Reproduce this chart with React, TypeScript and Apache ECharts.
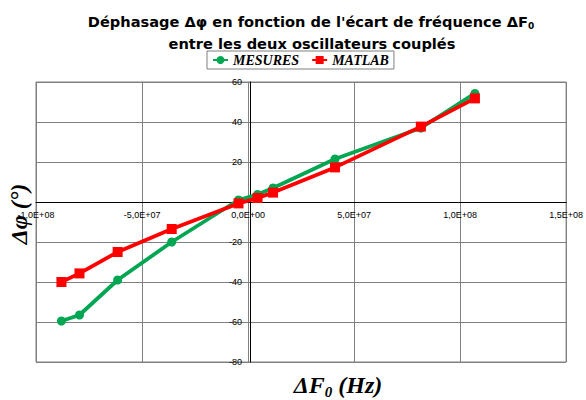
import React, { useEffect, useRef } from 'react';
import * as echarts from 'echarts';

// Frequency offsets ΔF0 (Hz) shared by both series
const freqOffsets = [-88e6, -79.5e6, -61.5e6, -36e6, -4.5e6, 4.5e6, 11.8e6, 41e6, 81.5e6, 107e6];
// Measured phase shift (°)
const mesures = [-59.5, -56.5, -39, -20, 1, 3.8, 7, 21.5, 37, 54.3];
// Simulated (MATLAB) phase shift (°)
const matlab = [-40, -35.7, -25, -13.5, -0.7, 2, 4.7, 17.3, 37.7, 51.8];

const seriesNames = ['MESURES', 'MATLAB'];
const xMin = -1e8;
const xMax = 1.5e8;
const xStep = 5e7;
const yMin = -80;
const yMax = 60;
const yStep = 20;

const GRID = { left: 36, top: 82, width: 535, height: 280 };

function sciLabel(v: number): string {
  if (v === 0) return '0,0E+00';
  const sign = v < 0 ? '-' : '';
  const a = Math.abs(v);
  let e = Math.floor(Math.log10(a) + 1e-9);
  let m = a / Math.pow(10, e);
  if (Math.round(m * 10) / 10 >= 10) { m /= 10; e += 1; }
  return `${sign}${m.toFixed(1).replace('.', ',')}E+${String(e).padStart(2, '0')}`;
}

export default function App() {
  const ref = useRef<HTMLDivElement>(null);
  useEffect(() => {
    if (!ref.current) return;
    const chart = echarts.init(ref.current, undefined, { renderer: 'svg' });
    const pairs = (ys: number[]) => freqOffsets.map((x, i) => [x, ys[i]]);
    const sans = '"Liberation Sans", Arial, sans-serif';
    const heavy = '"DejaVu Sans", Verdana, sans-serif';
    const serif = '"Liberation Serif", "Times New Roman", serif';
    // axes cross at zero: shift each axis from the grid edge to the zero of the other scale
    const xAxisOffset = -((0 - yMin) / (yMax - yMin)) * GRID.height;
    const yAxisOffset = -((0 - xMin) / (xMax - xMin)) * GRID.width;
    chart.setOption({
      animation: false,
      backgroundColor: '#ffffff',
      grid: { ...GRID, show: true, borderColor: '#808080', borderWidth: 1 },
      legend: {
        data: seriesNames,
        left: 207, top: 51,
        padding: [2, 5, 2, 5],
        itemWidth: 15, itemHeight: 10, itemGap: 12,
        borderColor: '#808080', borderWidth: 1,
        textStyle: { fontFamily: serif, fontStyle: 'italic', fontWeight: 'bold', fontSize: 14, color: '#000' },
      },
      xAxis: {
        type: 'value',
        min: xMin, max: xMax, interval: xStep,
        offset: xAxisOffset,
        axisLine: { onZero: false, lineStyle: { color: '#000', width: 1 } },
        axisTick: { show: false },
        splitLine: { show: true, lineStyle: { color: '#808080', width: 1 } },
        axisLabel: {
          formatter: sciLabel, fontFamily: sans, fontSize: 9, color: '#000', margin: 8,
          showMinLabel: true, showMaxLabel: true,
        },
      },
      yAxis: {
        type: 'value',
        min: yMin, max: yMax, interval: yStep,
        offset: yAxisOffset,
        axisLine: { onZero: false, lineStyle: { color: '#000', width: 1 } },
        axisTick: { show: false },
        splitLine: { show: true, lineStyle: { color: '#808080', width: 1 } },
        axisLabel: { fontFamily: sans, fontSize: 9, color: '#000', margin: 8 },
      },
      series: [
        {
          name: seriesNames[0], type: 'line', data: pairs(mesures),
          symbol: 'circle', symbolSize: 9,
          lineStyle: { color: '#00A651', width: 3.8 },
          itemStyle: { color: '#00A651' },
        },
        {
          name: seriesNames[1], type: 'line', data: pairs(matlab),
          symbol: 'rect', symbolSize: 10,
          lineStyle: { color: '#FF0000', width: 3.8 },
          itemStyle: { color: '#FF0000' },
        },
      ],
      graphic: [
        {
          type: 'text', x: 311, y: 21,
          style: {
            text: "{a|Déphasage Δφ en fonction de l'écart de fréquence ΔF}{s|0}",
            fill: '#000', align: 'center', verticalAlign: 'middle',
            rich: {
              a: { fontFamily: heavy, fontWeight: 'bold', fontSize: 14.6, lineHeight: 18 },
              s: { fontFamily: heavy, fontWeight: 'bold', fontSize: 9, lineHeight: 10, verticalAlign: 'bottom' },
            },
          },
        },
        {
          type: 'text', x: 312, y: 43,
          style: {
            text: 'entre les deux oscillateurs couplés',
            fontFamily: heavy, fontWeight: 'bold', fontSize: 14.6, fill: '#000',
            align: 'center', verticalAlign: 'middle',
          },
        },
        {
          type: 'text', x: 19, y: 214, rotation: Math.PI / 2,
          style: {
            text: 'Δφ (°)',
            fontFamily: serif, fontWeight: 'bold', fontStyle: 'italic', fontSize: 24, fill: '#000',
            align: 'center', verticalAlign: 'middle',
          },
        },
        {
          type: 'text', x: 338, y: 385,
          style: {
            text: '{a|ΔF}{s|0}{a| (Hz)}',
            fill: '#000', align: 'center', verticalAlign: 'middle',
            rich: {
              a: { fontFamily: serif, fontWeight: 'bold', fontStyle: 'italic', fontSize: 24, lineHeight: 28 },
              s: { fontFamily: serif, fontWeight: 'bold', fontStyle: 'italic', fontSize: 15, lineHeight: 15, verticalAlign: 'bottom' },
            },
          },
        },
      ],
    });
    return () => chart.dispose();
  }, []);
  return <div ref={ref} style={{ width: 586, height: 400, position: 'absolute', left: 0, top: 0 }} />;
}
